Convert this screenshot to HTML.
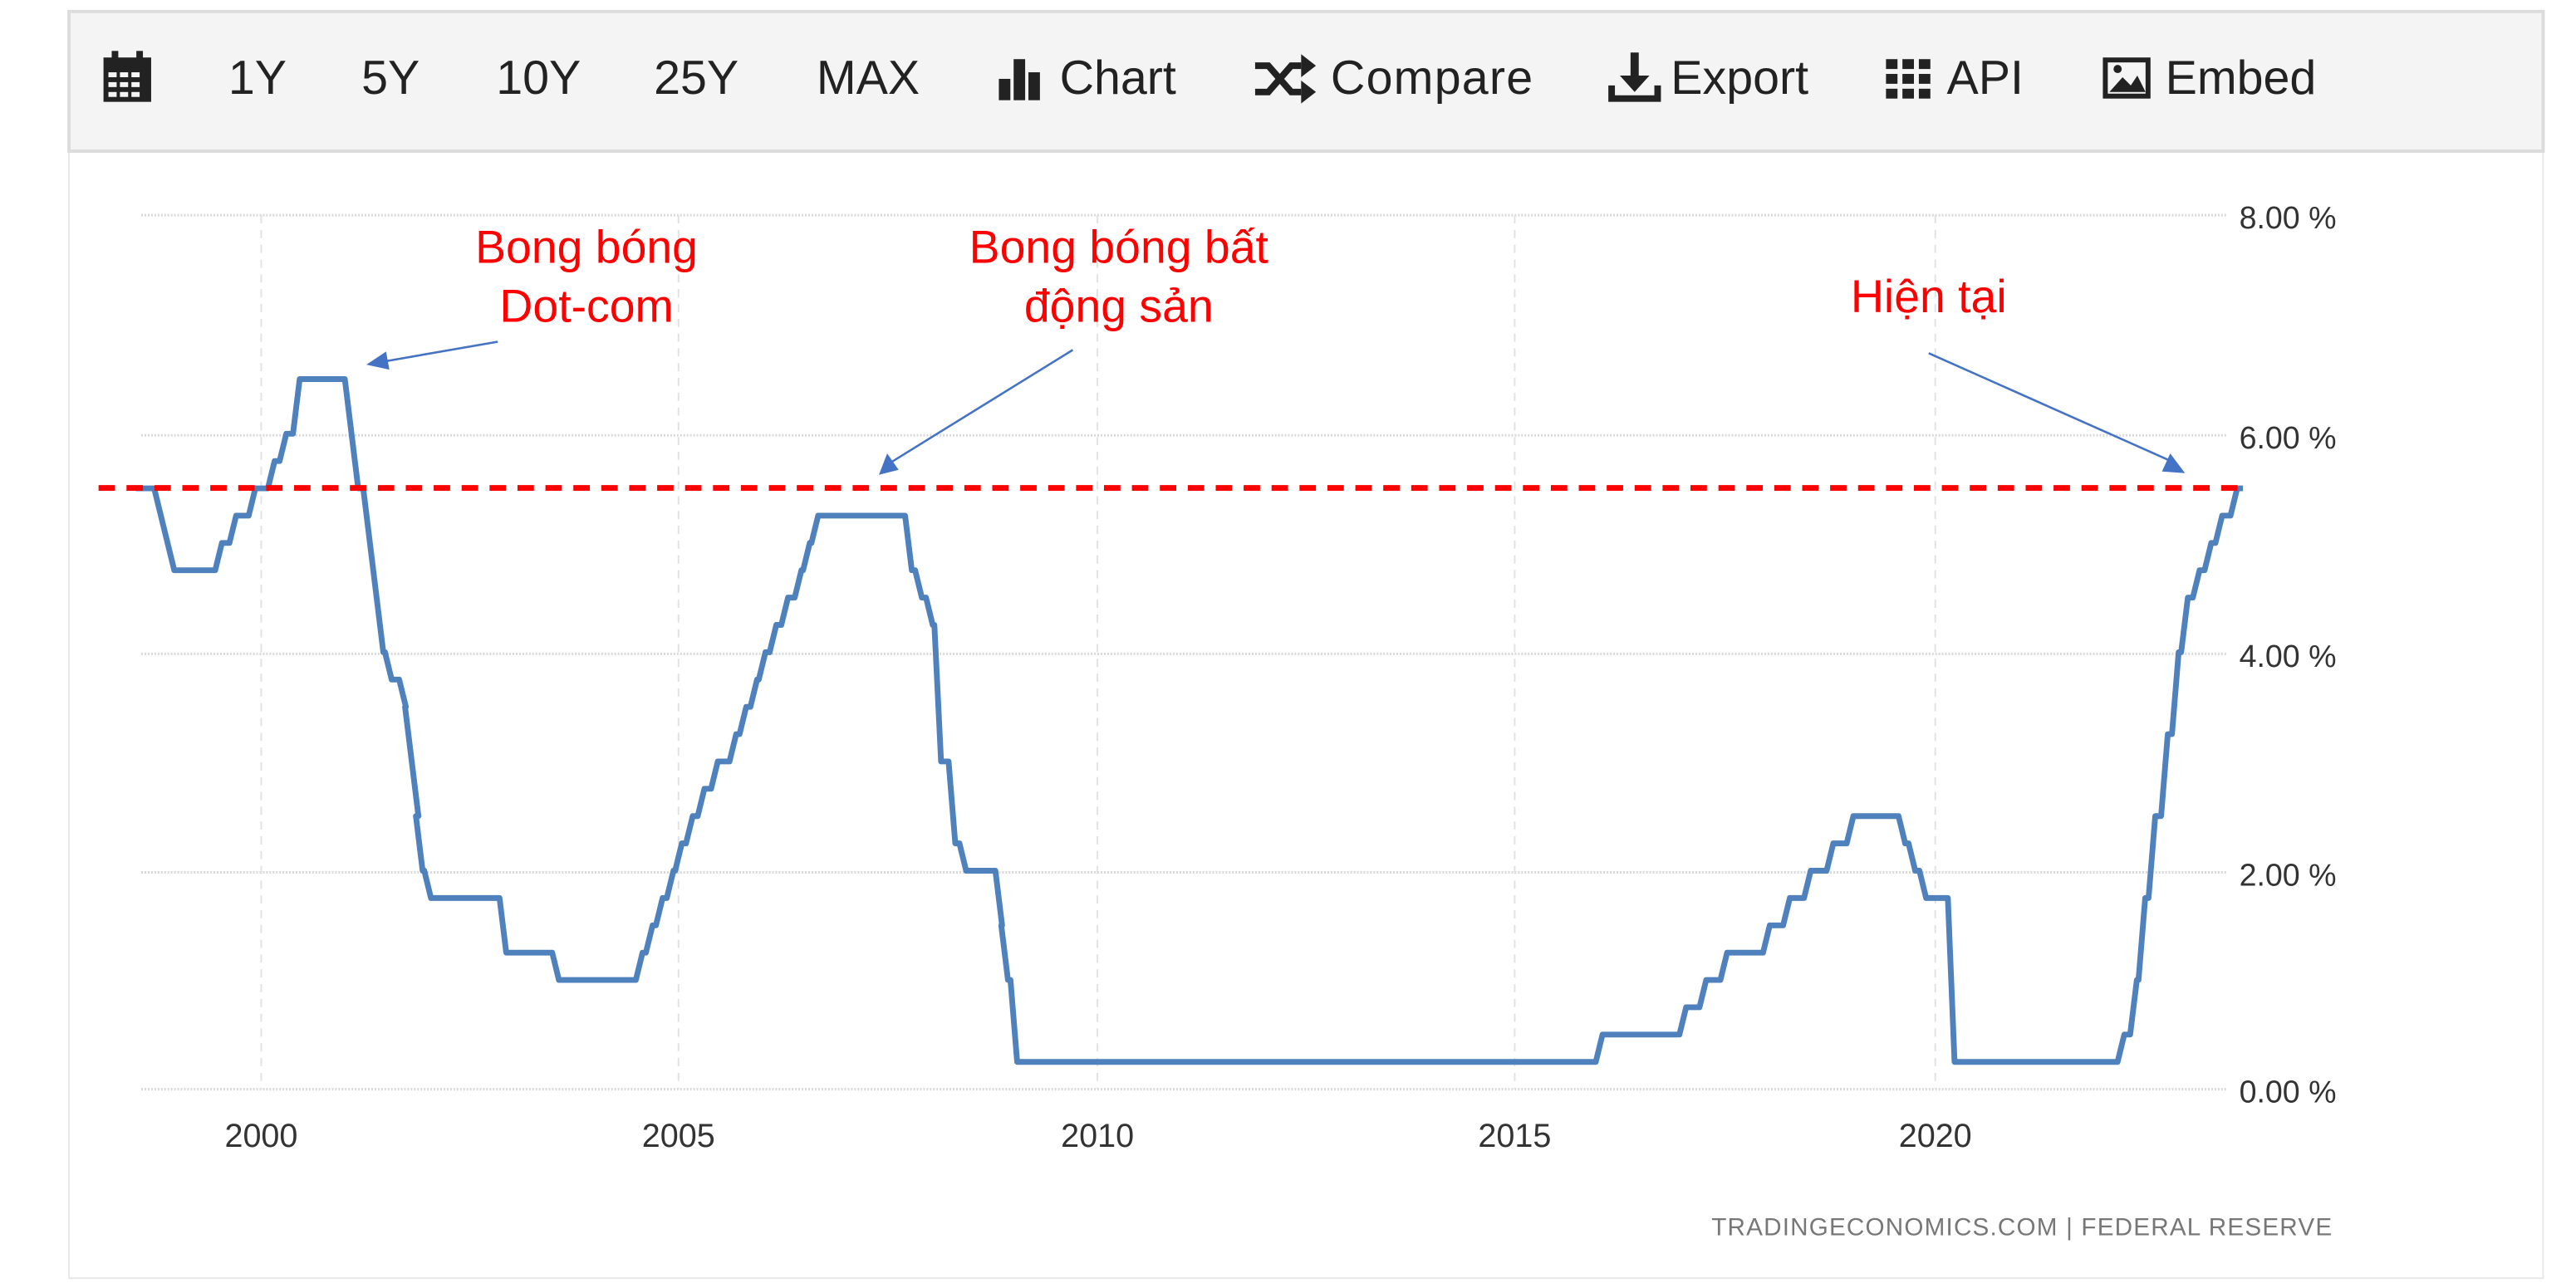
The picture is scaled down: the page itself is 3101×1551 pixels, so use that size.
<!DOCTYPE html>
<html><head><meta charset="utf-8">
<style>
html,body{margin:0;padding:0;background:#fff;}
svg{display:block;}
</style></head>
<body>
<svg id="s" width="3101" height="1551" viewBox="0 0 1568 784" preserveAspectRatio="none" xmlns="http://www.w3.org/2000/svg">
<rect x="0" y="0" width="1568" height="784" fill="#fff"/>
<rect x="42" y="7" width="1506" height="771" fill="#fff" stroke="#e8e8e8" stroke-width="1"/>
<rect x="42" y="7" width="1506" height="85" fill="#f4f4f4" stroke="#dcdcdc" stroke-width="2"/>
<g font-family="Liberation Sans, sans-serif" font-size="29" fill="#222">
 <rect x="63" y="35" width="29" height="27" fill="#222"/>
 <rect x="68" y="31" width="4" height="6" fill="#222"/><rect x="83" y="31" width="4" height="6" fill="#222"/>
 <g fill="#f4f4f4"><rect x="66" y="44" width="5" height="3"/><rect x="73" y="44" width="5" height="3"/><rect x="80" y="44" width="5" height="3"/><rect x="66" y="50" width="5" height="3"/><rect x="73" y="50" width="5" height="3"/><rect x="80" y="50" width="5" height="3"/><rect x="66" y="56" width="5" height="3"/><rect x="73" y="56" width="5" height="3"/><rect x="80" y="56" width="5" height="3"/></g>
 <text x="139" y="57">1Y</text>
 <text x="220" y="57">5Y</text>
 <text x="302" y="57">10Y</text>
 <text x="398" y="57">25Y</text>
 <text x="497" y="57">MAX</text>
 <rect x="608" y="48" width="7" height="13" fill="#222"/><rect x="617" y="36" width="7" height="25" fill="#222"/><rect x="626" y="44" width="7" height="17" fill="#222"/>
 <text x="645" y="57">Chart</text>
 <path d="M764 40 h8 l14 16 h6 M764 56 h8 l14 -16 h6" stroke="#222" stroke-width="4" fill="none"/>
 <path d="M792 33 l9 7 l-9 7z M792 49 l9 7 l-9 7z" fill="#222"/>
 <text x="810" y="57" textLength="123">Compare</text>
 <path d="M995 32 v20" stroke="#222" stroke-width="5"/><path d="M986 46 l9 10 l9 -10z" fill="#222"/>
 <path d="M981 52 v8 h28 v-8" stroke="#222" stroke-width="4" fill="none"/>
 <text x="1017" y="57">Export</text>
 <g fill="#222"><rect x="1148" y="36" width="7" height="6"/><rect x="1158" y="36" width="7" height="6"/><rect x="1168" y="36" width="7" height="6"/><rect x="1148" y="45" width="7" height="6"/><rect x="1158" y="45" width="7" height="6"/><rect x="1168" y="45" width="7" height="6"/><rect x="1148" y="54" width="7" height="6"/><rect x="1158" y="54" width="7" height="6"/><rect x="1168" y="54" width="7" height="6"/></g>
 <text x="1185" y="57">API</text>
 <rect x="1280" y="35" width="29" height="25" fill="#222"/><rect x="1283" y="38" width="23" height="19" fill="#f4f4f4"/>
 <path d="M1284 56 l8 -9 l5 5 l4 -6 l5 10z" fill="#222"/><circle cx="1289" cy="42" r="2.5" fill="#222"/>
 <text x="1318" y="57">Embed</text>
</g>
<g stroke="#d8d8d8" stroke-width="1.5" stroke-dasharray="1,1">
 <line x1="86" y1="131" x2="1356" y2="131"/>
 <line x1="86" y1="265" x2="1356" y2="265"/>
 <line x1="86" y1="398" x2="1356" y2="398"/>
 <line x1="86" y1="531" x2="1356" y2="531"/>
 <line x1="86" y1="663" x2="1356" y2="663"/>
</g>
<g stroke="#e2e2e2" stroke-width="1" stroke-dasharray="5,4">
 <line x1="159" y1="131" x2="159" y2="663"/>
 <line x1="413" y1="131" x2="413" y2="663"/>
 <line x1="668" y1="131" x2="668" y2="663"/>
 <line x1="922" y1="131" x2="922" y2="663"/>
 <line x1="1178" y1="131" x2="1178" y2="663"/>
</g>
<g font-family="Liberation Sans, sans-serif" font-size="19" fill="#333">
 <text x="1363" y="139">8.00 %</text>
 <text x="1363" y="273">6.00 %</text>
 <text x="1363" y="406">4.00 %</text>
 <text x="1363" y="539">2.00 %</text>
 <text x="1363" y="671">0.00 %</text>
 <g text-anchor="middle" font-size="20">
 <text x="159" y="698">2000</text><text x="413" y="698">2005</text><text x="668" y="698">2010</text><text x="922" y="698">2015</text><text x="1178" y="698">2020</text>
 </g>
</g>
<text x="1420" y="752" text-anchor="end" font-family="Liberation Sans, sans-serif" font-size="15" fill="#777" letter-spacing="0.6">TRADINGECONOMICS.COM  |  FEDERAL  RESERVE</text>
<polyline id="ln" fill="none" stroke="#4f81bd" stroke-width="3.5" stroke-linejoin="round" points=""/>
<line x1="60" y1="297" x2="1362" y2="297" stroke="#f00" stroke-width="3.5" stroke-dasharray="10,7"/>
<g font-family="Liberation Sans, sans-serif" font-size="28" fill="#f00" text-anchor="middle">
 <text x="357" y="160">Bong bóng</text><text x="357" y="196">Dot-com</text>
 <text x="681" y="160">Bong bóng bất</text><text x="681" y="196">động sản</text>
 <text x="1174" y="190">Hiện tại</text>
</g>
<g stroke="#4472c4" stroke-width="1.3" fill="#4472c4">
 <line x1="303" y1="208" x2="234" y2="220"/><path d="M223 222 l12 -8 l2 11z" stroke="none"/>
 <line x1="653" y1="213" x2="543" y2="281"/><path d="M535 289 l5 -13 l7 10z" stroke="none"/>
 <line x1="1174" y1="215" x2="1320" y2="280"/><path d="M1330 288 l-14 -1 l5 -11z" stroke="none"/>
</g>
</svg>
<script>
var ev=[[1998.5,5.5],[1998.72,5.25],[1998.8,5.0],[1998.88,4.75],[1999.45,5.0],[1999.62,5.25],[1999.85,5.5],[2000.08,5.75],[2000.22,6.0],[2000.38,6.5],[2001.0,6.0],[2001.08,5.5],[2001.22,5.0],[2001.3,4.5],[2001.38,4.0],[2001.48,3.75],[2001.65,3.5],[2001.72,3.0],[2001.8,2.5],[2001.85,2.0],[2001.95,1.75],[2002.85,1.25],[2003.48,1.0],[2004.48,1.25],[2004.6,1.5],[2004.72,1.75],[2004.85,2.0],[2004.95,2.25],[2005.08,2.5],[2005.22,2.75],[2005.38,3.0],[2005.6,3.25],[2005.72,3.5],[2005.85,3.75],[2005.95,4.0],[2006.08,4.25],[2006.22,4.5],[2006.38,4.75],[2006.48,5.0],[2006.58,5.25],[2007.7,4.75],[2007.82,4.5],[2007.95,4.25],[2008.05,3.0],[2008.22,2.25],[2008.35,2.0],[2008.78,1.5],[2008.85,1.0],[2008.96,0.25],[2015.96,0.5],[2016.96,0.75],[2017.2,1.0],[2017.45,1.25],[2017.96,1.5],[2018.2,1.75],[2018.45,2.0],[2018.72,2.25],[2018.96,2.5],[2019.58,2.25],[2019.7,2.0],[2019.83,1.75],[2020.17,0.25],[2022.2,0.5],[2022.35,1.0],[2022.45,1.75],[2022.57,2.5],[2022.72,3.25],[2022.85,4.0],[2022.96,4.5],[2023.1,4.75],[2023.24,5.0],[2023.37,5.25],[2023.55,5.5],[2023.62,5.5]];
function X(t){return 159+50.9*(t-2000);}function Y(v){return 663-66.5*v;}
var p=[],prev=ev[0][1];p.push(X(ev[0][0])+","+Y(prev));
for(var i=1;i<ev.length;i++){var t=ev[i][0],v=ev[i][1];p.push(X(t)+","+Y(prev));p.push(X(t+0.08)+","+Y(v));prev=v;}
document.getElementById("ln").setAttribute("points",p.join(" "));
</script>
</body></html>
